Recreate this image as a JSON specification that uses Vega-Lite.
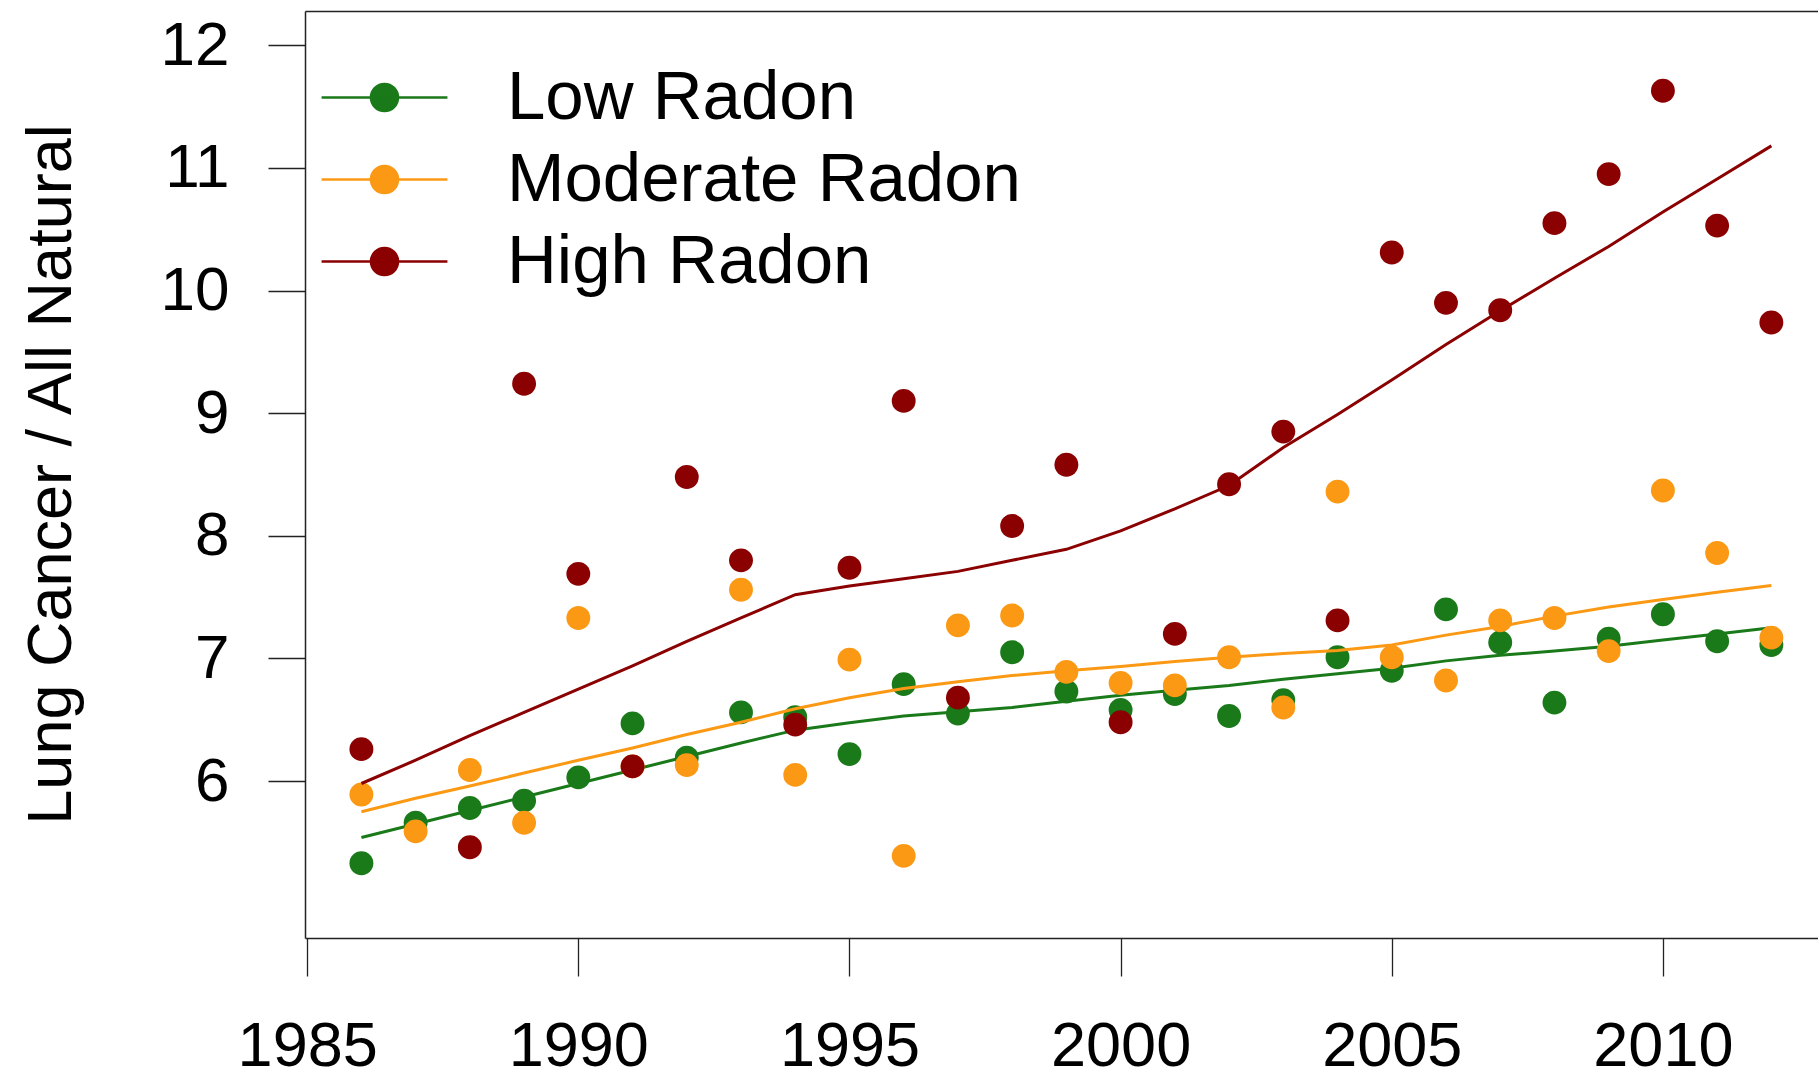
{
  "$schema": "https://vega.github.io/schema/vega-lite/v6.json",
  "width": 1513,
  "height": 927,
  "autosize": {"type": "none"},
  "padding": {"left": 305, "top": 11, "right": 0, "bottom": 139},
  "background": "white",
  "config": {"font": "Liberation Sans", "view": {"stroke": null}, "axis": {"grid": false}},
  "datasets": {
    "points": [
      {"year": 1986, "group": "Low Radon", "value": 5.33},
      {"year": 1987, "group": "Low Radon", "value": 5.66},
      {"year": 1988, "group": "Low Radon", "value": 5.78},
      {"year": 1989, "group": "Low Radon", "value": 5.84},
      {"year": 1990, "group": "Low Radon", "value": 6.03},
      {"year": 1991, "group": "Low Radon", "value": 6.47},
      {"year": 1992, "group": "Low Radon", "value": 6.19},
      {"year": 1993, "group": "Low Radon", "value": 6.56},
      {"year": 1994, "group": "Low Radon", "value": 6.52},
      {"year": 1995, "group": "Low Radon", "value": 6.22},
      {"year": 1996, "group": "Low Radon", "value": 6.79},
      {"year": 1997, "group": "Low Radon", "value": 6.55},
      {"year": 1998, "group": "Low Radon", "value": 7.05},
      {"year": 1999, "group": "Low Radon", "value": 6.73},
      {"year": 2000, "group": "Low Radon", "value": 6.58},
      {"year": 2001, "group": "Low Radon", "value": 6.71},
      {"year": 2002, "group": "Low Radon", "value": 6.53},
      {"year": 2003, "group": "Low Radon", "value": 6.66},
      {"year": 2004, "group": "Low Radon", "value": 7.01},
      {"year": 2005, "group": "Low Radon", "value": 6.9},
      {"year": 2006, "group": "Low Radon", "value": 7.4},
      {"year": 2007, "group": "Low Radon", "value": 7.13},
      {"year": 2008, "group": "Low Radon", "value": 6.64},
      {"year": 2009, "group": "Low Radon", "value": 7.16},
      {"year": 2010, "group": "Low Radon", "value": 7.36},
      {"year": 2011, "group": "Low Radon", "value": 7.14},
      {"year": 2012, "group": "Low Radon", "value": 7.11},
      {"year": 1986, "group": "Moderate Radon", "value": 5.89},
      {"year": 1987, "group": "Moderate Radon", "value": 5.59},
      {"year": 1988, "group": "Moderate Radon", "value": 6.09},
      {"year": 1989, "group": "Moderate Radon", "value": 5.66},
      {"year": 1990, "group": "Moderate Radon", "value": 7.33},
      {"year": 1991, "group": "Moderate Radon", "value": 6.12},
      {"year": 1992, "group": "Moderate Radon", "value": 6.13},
      {"year": 1993, "group": "Moderate Radon", "value": 7.56},
      {"year": 1994, "group": "Moderate Radon", "value": 6.05},
      {"year": 1995, "group": "Moderate Radon", "value": 6.99},
      {"year": 1996, "group": "Moderate Radon", "value": 5.39},
      {"year": 1997, "group": "Moderate Radon", "value": 7.27},
      {"year": 1998, "group": "Moderate Radon", "value": 7.35},
      {"year": 1999, "group": "Moderate Radon", "value": 6.89},
      {"year": 2000, "group": "Moderate Radon", "value": 6.8},
      {"year": 2001, "group": "Moderate Radon", "value": 6.78},
      {"year": 2002, "group": "Moderate Radon", "value": 7.01},
      {"year": 2003, "group": "Moderate Radon", "value": 6.6},
      {"year": 2004, "group": "Moderate Radon", "value": 8.36},
      {"year": 2005, "group": "Moderate Radon", "value": 7.01},
      {"year": 2006, "group": "Moderate Radon", "value": 6.82},
      {"year": 2007, "group": "Moderate Radon", "value": 7.31},
      {"year": 2008, "group": "Moderate Radon", "value": 7.33},
      {"year": 2009, "group": "Moderate Radon", "value": 7.06},
      {"year": 2010, "group": "Moderate Radon", "value": 8.37},
      {"year": 2011, "group": "Moderate Radon", "value": 7.86},
      {"year": 2012, "group": "Moderate Radon", "value": 7.17},
      {"year": 1986, "group": "High Radon", "value": 6.26},
      {"year": 1988, "group": "High Radon", "value": 5.46},
      {"year": 1989, "group": "High Radon", "value": 9.24},
      {"year": 1990, "group": "High Radon", "value": 7.69},
      {"year": 1991, "group": "High Radon", "value": 6.12},
      {"year": 1992, "group": "High Radon", "value": 8.48},
      {"year": 1993, "group": "High Radon", "value": 7.8},
      {"year": 1994, "group": "High Radon", "value": 6.46},
      {"year": 1995, "group": "High Radon", "value": 7.74},
      {"year": 1996, "group": "High Radon", "value": 9.1},
      {"year": 1997, "group": "High Radon", "value": 6.68},
      {"year": 1998, "group": "High Radon", "value": 8.08},
      {"year": 1999, "group": "High Radon", "value": 8.58},
      {"year": 2000, "group": "High Radon", "value": 6.48},
      {"year": 2001, "group": "High Radon", "value": 7.2},
      {"year": 2002, "group": "High Radon", "value": 8.42},
      {"year": 2003, "group": "High Radon", "value": 8.85},
      {"year": 2004, "group": "High Radon", "value": 7.31},
      {"year": 2005, "group": "High Radon", "value": 10.31},
      {"year": 2006, "group": "High Radon", "value": 9.9},
      {"year": 2007, "group": "High Radon", "value": 9.84},
      {"year": 2008, "group": "High Radon", "value": 10.55},
      {"year": 2009, "group": "High Radon", "value": 10.95},
      {"year": 2010, "group": "High Radon", "value": 11.63},
      {"year": 2011, "group": "High Radon", "value": 10.53},
      {"year": 2012, "group": "High Radon", "value": 9.74}
    ],
    "lines": [
      {"year": 1986, "group": "Low Radon", "value": 5.54},
      {"year": 1987, "group": "Low Radon", "value": 5.65},
      {"year": 1988, "group": "Low Radon", "value": 5.76},
      {"year": 1989, "group": "Low Radon", "value": 5.87},
      {"year": 1990, "group": "Low Radon", "value": 5.98},
      {"year": 1991, "group": "Low Radon", "value": 6.09},
      {"year": 1992, "group": "Low Radon", "value": 6.2},
      {"year": 1993, "group": "Low Radon", "value": 6.31},
      {"year": 1994, "group": "Low Radon", "value": 6.415},
      {"year": 1995, "group": "Low Radon", "value": 6.475},
      {"year": 1996, "group": "Low Radon", "value": 6.53},
      {"year": 1997, "group": "Low Radon", "value": 6.565},
      {"year": 1998, "group": "Low Radon", "value": 6.6},
      {"year": 1999, "group": "Low Radon", "value": 6.65},
      {"year": 2000, "group": "Low Radon", "value": 6.7},
      {"year": 2001, "group": "Low Radon", "value": 6.74},
      {"year": 2002, "group": "Low Radon", "value": 6.78},
      {"year": 2003, "group": "Low Radon", "value": 6.83},
      {"year": 2004, "group": "Low Radon", "value": 6.875},
      {"year": 2005, "group": "Low Radon", "value": 6.92},
      {"year": 2006, "group": "Low Radon", "value": 6.98},
      {"year": 2007, "group": "Low Radon", "value": 7.025},
      {"year": 2008, "group": "Low Radon", "value": 7.06},
      {"year": 2009, "group": "Low Radon", "value": 7.1},
      {"year": 2010, "group": "Low Radon", "value": 7.15},
      {"year": 2011, "group": "Low Radon", "value": 7.2},
      {"year": 2012, "group": "Low Radon", "value": 7.25},
      {"year": 1986, "group": "Moderate Radon", "value": 5.75},
      {"year": 1987, "group": "Moderate Radon", "value": 5.86},
      {"year": 1988, "group": "Moderate Radon", "value": 5.96},
      {"year": 1989, "group": "Moderate Radon", "value": 6.065},
      {"year": 1990, "group": "Moderate Radon", "value": 6.17},
      {"year": 1991, "group": "Moderate Radon", "value": 6.27},
      {"year": 1992, "group": "Moderate Radon", "value": 6.38},
      {"year": 1993, "group": "Moderate Radon", "value": 6.48},
      {"year": 1994, "group": "Moderate Radon", "value": 6.59},
      {"year": 1995, "group": "Moderate Radon", "value": 6.68},
      {"year": 1996, "group": "Moderate Radon", "value": 6.755},
      {"year": 1997, "group": "Moderate Radon", "value": 6.81},
      {"year": 1998, "group": "Moderate Radon", "value": 6.86},
      {"year": 1999, "group": "Moderate Radon", "value": 6.9},
      {"year": 2000, "group": "Moderate Radon", "value": 6.935},
      {"year": 2001, "group": "Moderate Radon", "value": 6.975},
      {"year": 2002, "group": "Moderate Radon", "value": 7.01},
      {"year": 2003, "group": "Moderate Radon", "value": 7.04},
      {"year": 2004, "group": "Moderate Radon", "value": 7.065},
      {"year": 2005, "group": "Moderate Radon", "value": 7.11},
      {"year": 2006, "group": "Moderate Radon", "value": 7.19},
      {"year": 2007, "group": "Moderate Radon", "value": 7.26},
      {"year": 2008, "group": "Moderate Radon", "value": 7.345},
      {"year": 2009, "group": "Moderate Radon", "value": 7.42},
      {"year": 2010, "group": "Moderate Radon", "value": 7.48},
      {"year": 2011, "group": "Moderate Radon", "value": 7.54},
      {"year": 2012, "group": "Moderate Radon", "value": 7.595},
      {"year": 1986, "group": "High Radon", "value": 5.98},
      {"year": 1987, "group": "High Radon", "value": 6.17},
      {"year": 1988, "group": "High Radon", "value": 6.37},
      {"year": 1989, "group": "High Radon", "value": 6.56},
      {"year": 1990, "group": "High Radon", "value": 6.75},
      {"year": 1991, "group": "High Radon", "value": 6.94},
      {"year": 1992, "group": "High Radon", "value": 7.14},
      {"year": 1993, "group": "High Radon", "value": 7.33},
      {"year": 1994, "group": "High Radon", "value": 7.52},
      {"year": 1995, "group": "High Radon", "value": 7.59},
      {"year": 1996, "group": "High Radon", "value": 7.65},
      {"year": 1997, "group": "High Radon", "value": 7.71},
      {"year": 1998, "group": "High Radon", "value": 7.8},
      {"year": 1999, "group": "High Radon", "value": 7.89},
      {"year": 2000, "group": "High Radon", "value": 8.04},
      {"year": 2001, "group": "High Radon", "value": 8.22},
      {"year": 2002, "group": "High Radon", "value": 8.41},
      {"year": 2003, "group": "High Radon", "value": 8.72},
      {"year": 2004, "group": "High Radon", "value": 8.99},
      {"year": 2005, "group": "High Radon", "value": 9.27},
      {"year": 2006, "group": "High Radon", "value": 9.56},
      {"year": 2007, "group": "High Radon", "value": 9.835},
      {"year": 2008, "group": "High Radon", "value": 10.1},
      {"year": 2009, "group": "High Radon", "value": 10.36},
      {"year": 2010, "group": "High Radon", "value": 10.64},
      {"year": 2011, "group": "High Radon", "value": 10.91},
      {"year": 2012, "group": "High Radon", "value": 11.18}
    ]
  },
  "encoding": {
    "x": {"field": "year", "type": "quantitative", "scale": {"domain": [1984.96, 2012.86], "nice": false, "zero": false}},
    "y": {"field": "value", "type": "quantitative", "scale": {"domain": [4.72, 12.28], "nice": false, "zero": false}},
    "color": {"field": "group", "type": "nominal", "scale": {"domain": ["Low Radon", "Moderate Radon", "High Radon"], "range": ["#1a7a1a", "#fb9914", "#8b0000"]}}
  },
  "layer": [
    {
      "data": {"name": "points"},
      "transform": [{"filter": {"field": "group", "equal": "Low Radon"}}],
      "mark": {"type": "point", "filled": true, "opacity": 1, "size": 570, "shape": "circle"},
      "encoding": {
        "x": {"field": "year", "type": "quantitative", "axis": {"orient": "bottom", "values": [1985, 1990, 1995, 2000, 2005, 2010], "format": "d", "title": null, "domainColor": "#222", "domainWidth": 1.5, "tickColor": "#222", "tickWidth": 1.3, "tickSize": 38, "labelFontSize": 63, "labelColor": "black", "labelPadding": 39, "labelBaseline": "top", "labelFlush": false, "labelOverlap": false}},
        "y": {"field": "value", "type": "quantitative", "axis": {"values": [6, 7, 8, 9, 10, 11, 12], "format": "d", "title": "Lung Cancer / All Natural", "titleFontSize": 63, "titleFontWeight": "normal", "titleColor": "black", "titleAngle": 270, "titleX": -235, "titleY": 463, "titleBaseline": "alphabetic", "titleAlign": "center", "domainColor": "#222", "domainWidth": 1.5, "tickColor": "#222", "tickWidth": 1.3, "tickSize": 37, "labelFontSize": 62, "labelColor": "black", "labelPadding": 39, "labelOverlap": false, "labelFlush": false}},
        "color": {"field": "group", "type": "nominal", "legend": {"orient": "none", "legendX": 45, "legendY": 52, "title": null, "symbolType": "M-4.34,0L4.34,0M-0.93,0A0.93,0.93,0,1,0,0.93,0A0.93,0.93,0,1,0,-0.93,0Z", "symbolSize": 841, "symbolStrokeWidth": 2.6, "symbolOpacity": 1, "labelFontSize": 69, "labelColor": "black", "labelOffset": 88, "labelLimit": 1000, "rowPadding": 12, "padding": 0, "encode": {"symbols": {"update": {"fill": {"scale": "color", "field": "value"}, "stroke": {"scale": "color", "field": "value"}, "opacity": {"value": 1}}}}}}
      }
    },
    {
      "data": {"name": "lines"},
      "transform": [{"filter": {"field": "group", "equal": "Low Radon"}}],
      "mark": {"type": "line", "strokeWidth": 3},
      "encoding": {
        "x": {"field": "year", "type": "quantitative", "axis": {"orient": "top", "title": null, "labels": false, "ticks": false, "domain": true, "domainColor": "#222", "domainWidth": 1.5}}
      }
    },
    {
      "data": {"name": "points"},
      "transform": [{"filter": {"field": "group", "equal": "Moderate Radon"}}],
      "mark": {"type": "point", "filled": true, "opacity": 1, "size": 570, "shape": "circle"},
      "encoding": {"x": {"field": "year", "type": "quantitative", "axis": null}}
    },
    {
      "data": {"name": "lines"},
      "transform": [{"filter": {"field": "group", "equal": "Moderate Radon"}}],
      "mark": {"type": "line", "strokeWidth": 3},
      "encoding": {"x": {"field": "year", "type": "quantitative", "axis": null}}
    },
    {
      "data": {"name": "points"},
      "transform": [{"filter": {"field": "group", "equal": "High Radon"}}],
      "mark": {"type": "point", "filled": true, "opacity": 1, "size": 570, "shape": "circle"},
      "encoding": {"x": {"field": "year", "type": "quantitative", "axis": null}}
    },
    {
      "data": {"name": "lines"},
      "transform": [{"filter": {"field": "group", "equal": "High Radon"}}],
      "mark": {"type": "line", "strokeWidth": 3},
      "encoding": {"x": {"field": "year", "type": "quantitative", "axis": null}}
    }
  ],
  "resolve": {"axis": {"x": "independent"}}
}
